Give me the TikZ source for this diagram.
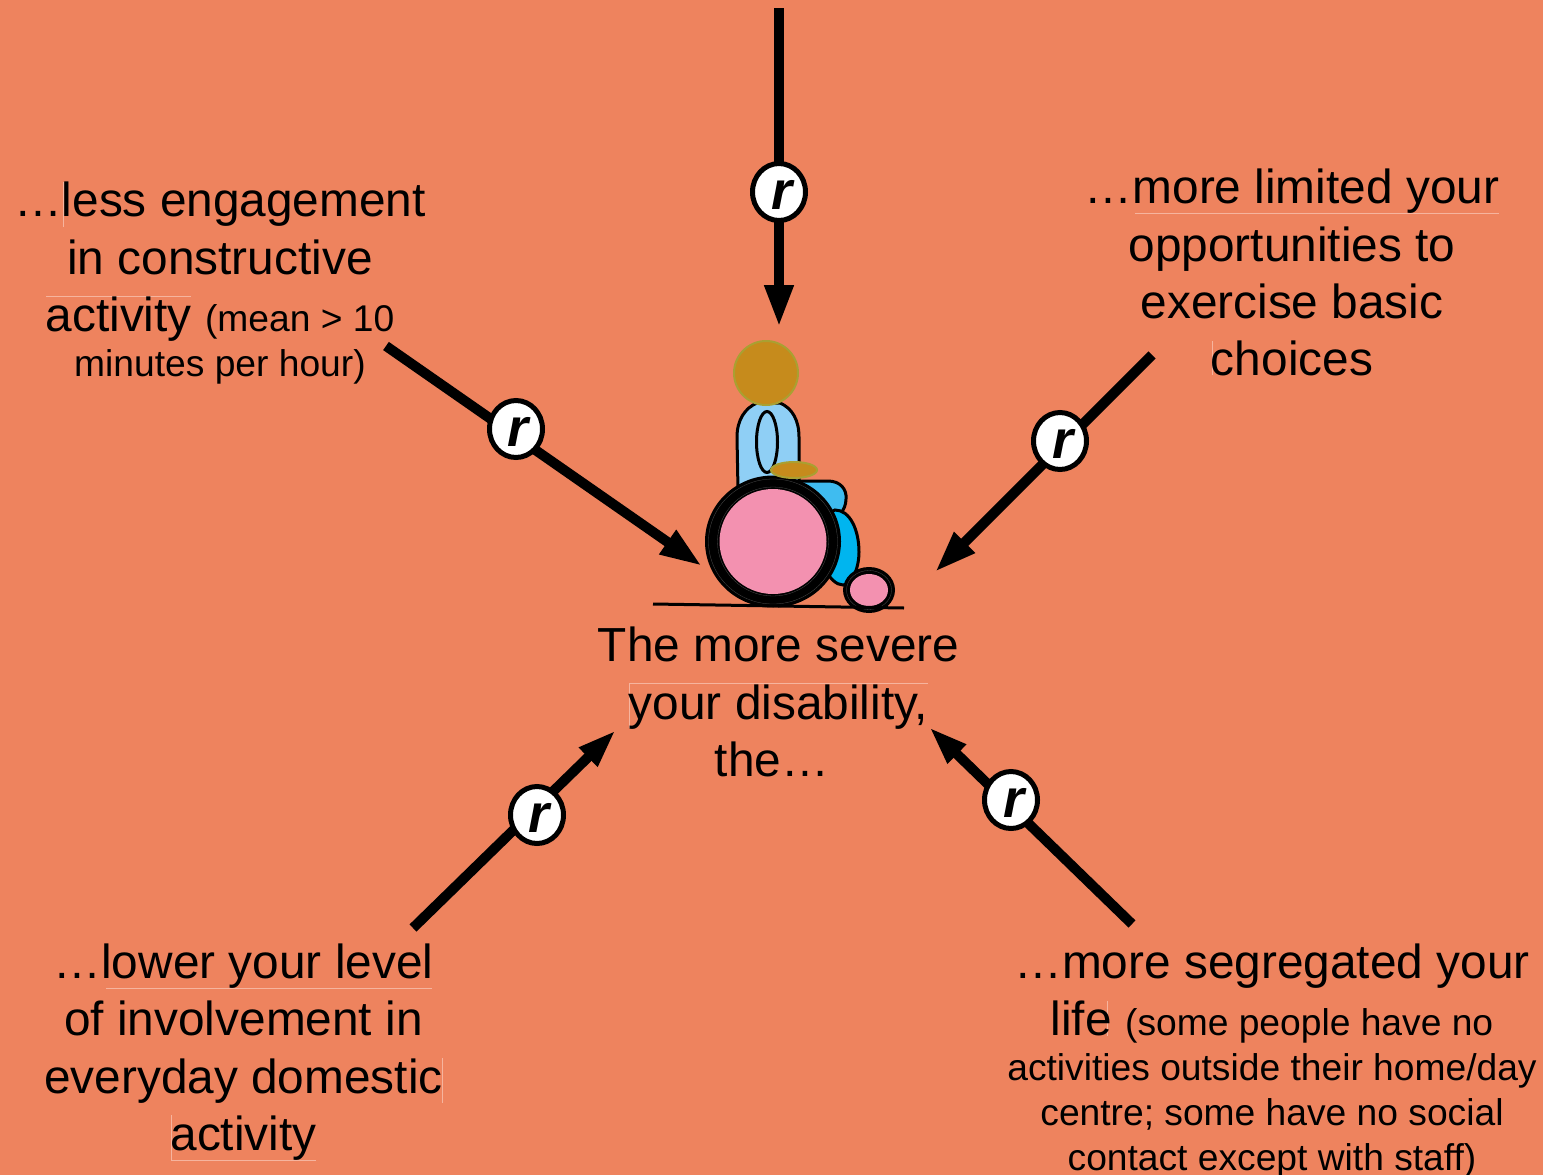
\documentclass[tikz,border=0pt]{standalone}
\usepackage{fontspec}
\setmainfont{Liberation Sans}
\usetikzlibrary{arrows.meta,shapes.geometric}
\definecolor{bgc}{HTML}{EE835E}
\definecolor{headc}{HTML}{C68B1C}
\definecolor{headl}{HTML}{A9A032}
\definecolor{bodyc}{HTML}{8FCFF5}
\definecolor{thighc}{HTML}{3FBCF0}
\definecolor{legc}{HTML}{00B5EF}
\definecolor{pinkc}{HTML}{F391B0}
\definecolor{faintc}{HTML}{F6B49E}
\newcommand{\bigtext}{\fontsize{47.8}{57.4}\selectfont}
\newcommand{\smalltext}{\fontsize{37.2}{44.7}\selectfont}
\newcommand{\rmark}{\hspace*{5pt}\raisebox{-7pt}[20pt][0pt]{r}}
\tikzset{
  x=1pt,y=-1pt,
  label text/.style={font=\bigtext,align=center,inner sep=0pt,text=black},
  rnode/.style={ellipse,draw=black,fill=white,line width=5pt,minimum width=53pt,minimum height=57pt,inner sep=0pt,font=\fontsize{54}{54}\selectfont\bfseries\itshape},
  shaft/.style={draw=black,line width=10pt},
  bighead/.style={shaft,-{Triangle[length=42pt,width=27pt]}},
  smallhead/.style={shaft,-{Triangle[length=39pt,width=24pt]}},
  bodypart/.style={draw=black,line width=3pt},
  skin/.style={fill=headc,draw=headl,line width=2pt},
  wheelring/.style={draw=gray!60!black,line width=0.3pt},
  faintline/.style={draw=faintc,line width=0.7pt},
}
\begin{document}
\begin{tikzpicture}
\useasboundingbox (0,0) rectangle (1543,1175);
\fill[bgc] (0,0) rectangle (1543,1175);

% faint traces around the texts
\draw[faintline] (63,182) -- (63,227);
\draw[faintline] (46,296.7) -- (191,296.7);
\draw[faintline] (1135,213.3) -- (1499,213.3);
\draw[faintline] (1212,341) -- (1212,375);
\draw[faintline] (629,728) -- (629,683.3) -- (928,683.3);
\draw[faintline] (106,988.3) -- (432,988.3);
\draw[faintline] (442.7,1058) -- (442.7,1103);
\draw[faintline] (171,1115) -- (171,1160) -- (316,1160);
\draw[faintline] (1107,1001) -- (1107,1036);

% texts
\node[label text] (tleft) at (220,283.2) {…less engagement\\in constructive\\activity {\smalltext (mean > 10}\\[-12.5pt]{\smalltext minutes per hour)}};
\node[label text] (tright) at (1292,272.7) {…more limited your\\opportunities to\\exercise basic\\choices};
\node[label text] (tcentre) at (778.5,702) {The more severe\\your disability,\\the…\hspace*{13pt}};
\node[label text] (tbl) at (243.5,1052) {…lower your level\\of involvement in\\everyday domestic\\activity};
\node[label text] (tbr) at (1272,1061) {…more segregated your\\life {\smalltext (some people have no}\\[-12.3pt]{\smalltext activities outside their home/day}\\[-12.3pt]{\smalltext centre; some have no social}\\[-12.3pt]{\smalltext contact except with staff)}};

% wheelchair user
\draw[bodypart,fill=bodyc] (738,490) -- (737,437) .. controls (737,420) and (745,408) .. (757,403) -- (780,403) .. controls (792,408) and (799,420) .. (799,437) -- (799,490) -- cycle;
\draw[bodypart] (767,442) ellipse [x radius=10.5,y radius=30.5];
\draw[bodypart,fill=thighc] (795,481) -- (828,481) .. controls (840,481) and (847,489) .. (846,499) .. controls (846,510) and (838,520) .. (820,530) -- (790,520) -- cycle;
\draw[bodypart,fill=legc] (835,510) .. controls (850,510) and (859,530) .. (859,552) .. controls (859,568) and (852,585) .. (843,585) .. controls (836,585) and (830,578) .. (825,570) -- (825,515) -- cycle;
\fill[black] (773,541.5) ellipse [x radius=68,y radius=66];
\draw[wheelring] (773,541.5) ellipse [x radius=64.5,y radius=62.5];
\draw[wheelring] (773,541.5) ellipse [x radius=55.5,y radius=54.5];
\fill[pinkc] (773,541.5) ellipse [x radius=53.5,y radius=52.5];
\fill[black] (869,590) ellipse [x radius=26,y radius=23];
\draw[wheelring] (869,590) ellipse [x radius=22.5,y radius=19.5];
\fill[pinkc] (869,590) ellipse [x radius=19,y radius=16];
\draw[draw=black,line width=3pt] (653,604) -- (904,608);
\draw[skin] (794,470) ellipse [x radius=23,y radius=8];
\draw[skin] (766,373) ellipse [x radius=32,y radius=32];

% coordinates
\coordinate (a1) at (779,8);     \coordinate (a2) at (779,327);
\coordinate (b1) at (386,346);   \coordinate (b2) at (702,566);
\coordinate (c1) at (1152,355);  \coordinate (c2) at (935,572);
\coordinate (d1) at (413,928);   \coordinate (d2) at (616,730);
\coordinate (e1) at (1132,924);  \coordinate (e2) at (929,727);

% connectors, under the badges
\draw[bighead] (a1) -- (a2);
\draw[bighead] (b1) -- (b2);
\draw[bighead] (c1) -- (c2);
\draw[smallhead] (d1) -- (d2);
\draw[smallhead] (e1) -- (e2);

% r badges
\node[rnode] (ra) at (779,192) {\rmark};
\node[rnode] (rb) at (516,429) {\rmark};
\node[rnode] (rc) at (1060,441) {\rmark};
\node[rnode] (rd) at (537,815) {\rmark};
\node[rnode] (re) at (1011,800) {\rmark};
\end{tikzpicture}
\end{document}
